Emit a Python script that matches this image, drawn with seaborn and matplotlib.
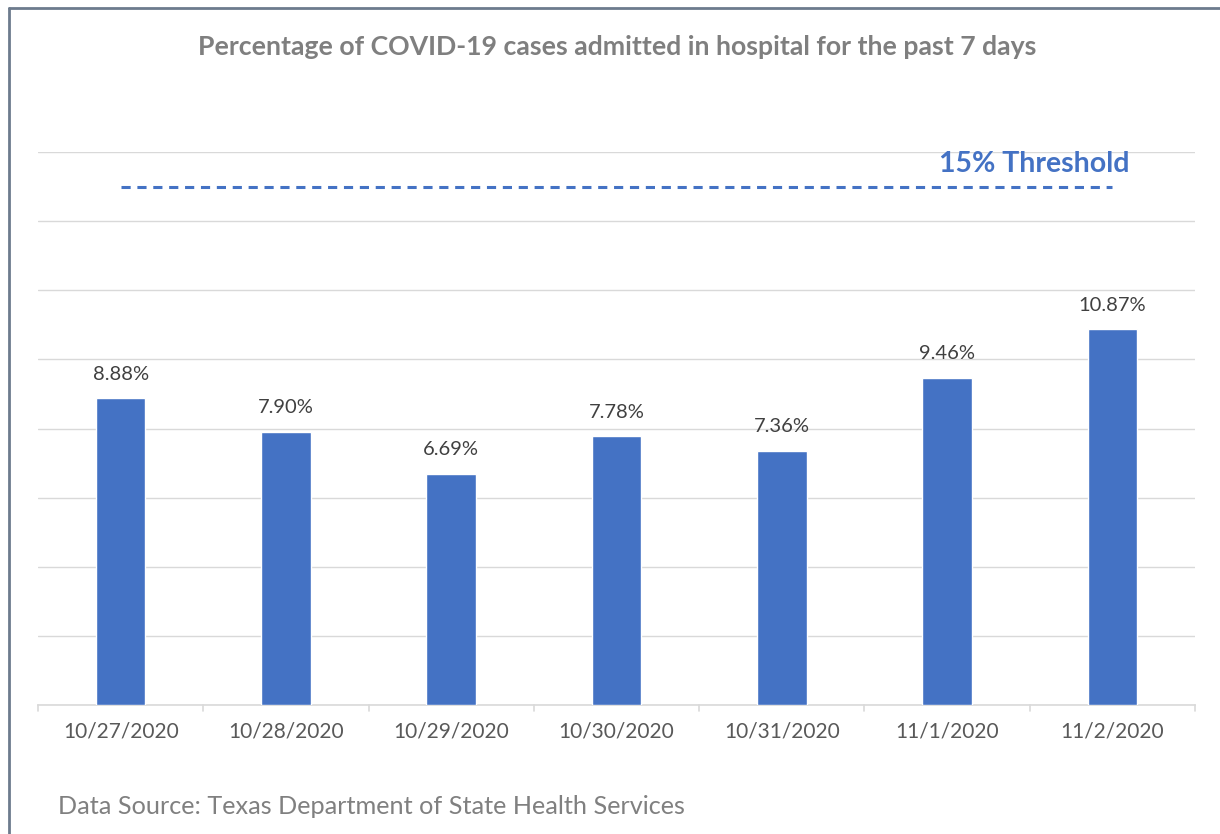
import matplotlib
matplotlib.use("Agg")
import matplotlib.pyplot as plt
import seaborn as sns
import pandas as pd

# values
dates = ["10/27/2020", "10/28/2020", "10/29/2020", "10/30/2020",
         "10/31/2020", "11/1/2020", "11/2/2020"]
pct = [8.88, 7.90, 6.69, 7.78, 7.36, 9.46, 10.87]
threshold = 15
yticks = [0, 2, 4, 6, 8, 10, 12, 14, 16]

df = pd.DataFrame({"date": dates, "pct": pct})

sns.set_theme(style="white")
plt.rcParams["font.family"] = ["Lato", "DejaVu Sans"]

fig = plt.figure(figsize=(12.2, 8.34), dpi=100)
ax = fig.add_axes([38 / 1220, 1 - 705 / 834, (1195 - 38) / 1220, (705 - 152) / 834])

sns.barplot(data=df, x="date", y="pct", color="#4472C4", width=0.30,
            saturation=1, ax=ax, zorder=3)

ax.set_ylim(0, 16)
ax.set_xlim(-0.5, len(dates) - 0.5)
ax.set_yticks(yticks)
ax.yaxis.grid(True, color="#d9d9d9", lw=1, zorder=0)
ax.tick_params(axis="y", left=False, labelleft=False)
ax.set_xlabel("")
ax.set_ylabel("")
for s in ["top", "right", "left"]:
    ax.spines[s].set_visible(False)
ax.spines["bottom"].set_color("#d9d9d9")
ax.spines["bottom"].set_linewidth(1.2)

# tick marks between categories
ax.set_xticks(range(len(dates)))
ax.set_xticklabels(dates, fontsize=15, color="#595959")
ax.tick_params(axis="x", length=0, pad=12)
for b in range(len(dates) + 1):
    ax.plot([b - 0.5, b - 0.5], [0, -0.18], color="#d9d9d9", lw=1.2,
            clip_on=False)

for i, v in enumerate(pct):
    ax.text(i, v + 0.45, f"{v:.2f}%", ha="center", va="bottom",
            fontsize=14.5, color="#404040")

# threshold line
ax.plot([0, len(dates) - 1], [threshold, threshold], color="#4472C4",
        lw=2.2, ls=(0, (3.0, 2.2)), zorder=4)
ax.text(5.53, threshold + 0.28, "15% Threshold", ha="center", va="bottom",
        fontsize=20.5, fontweight="bold", color="#4472C4")

fig.text(617 / 1220, 1 - 47 / 834,
         "Percentage of COVID-19 cases admitted in hospital for the past 7 days",
         ha="center", va="center", fontsize=19.2, fontweight="bold",
         color="#7f7f7f")
fig.text(58 / 1220, 1 - 807 / 834, "Data Source: Texas Department of State Health Services",
         ha="left", va="center", fontsize=18.2, color="#808080")

# outer frame (only left and top visible in the crop)
fig.add_artist(plt.Line2D([9 / 1220, 9 / 1220], [0, 1 - 8 / 834],
                          transform=fig.transFigure, color="#6d7b8d", lw=2))
fig.add_artist(plt.Line2D([9 / 1220, 1], [1 - 8 / 834, 1 - 8 / 834],
                          transform=fig.transFigure, color="#6d7b8d", lw=2))

fig.savefig("out.png", dpi=100)
